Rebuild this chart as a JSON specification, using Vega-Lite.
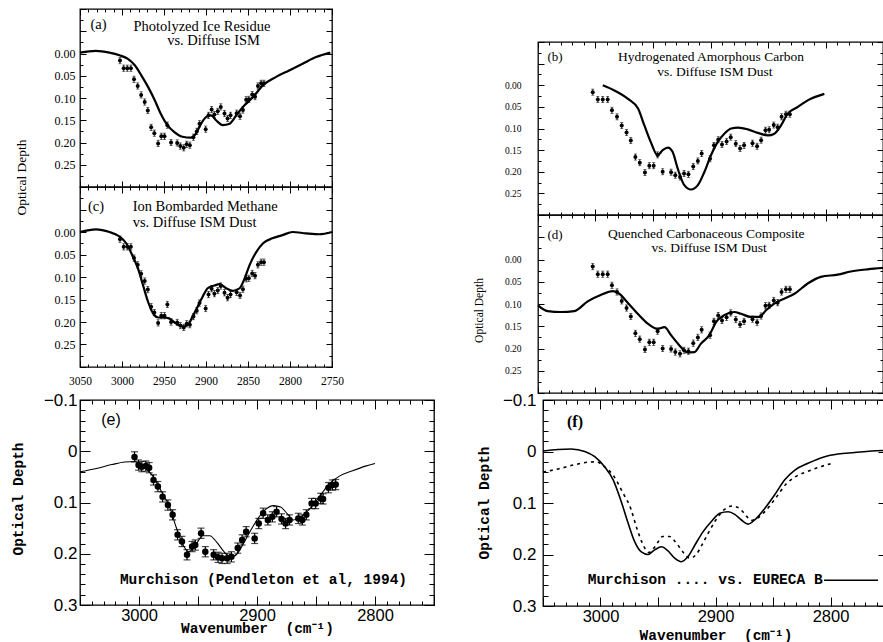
{
"$schema": "https://vega.github.io/schema/vega-lite/v6.json",
"padding": {"left": 9, "top": 7, "right": 0, "bottom": 0},
"background": "white",
"config": {
  "view": {"stroke": "#000", "strokeWidth": 1.3},
  "axis": {"domain": false, "grid": false, "tickColor": "#000", "tickWidth": 1, "labelColor": "#000", "titleColor": "#000", "labelFont": "Liberation Serif", "titleFont": "Liberation Serif", "labelOverlap": false, "labelFlush": false}
},
"datasets": {
  "ism": [{"wn":3002.4,"v":0.016,"e":0.007},{"wn":2998.0,"v":0.033,"e":0.007},{"wn":2993.7,"v":0.033,"e":0.007},{"wn":2989.4,"v":0.033,"e":0.007},{"wn":2985.7,"v":0.058,"e":0.007},{"wn":2981.3,"v":0.073,"e":0.007},{"wn":2977.2,"v":0.093,"e":0.007},{"wn":2973.0,"v":0.109,"e":0.007},{"wn":2969.3,"v":0.128,"e":0.007},{"wn":2965.3,"v":0.166,"e":0.007},{"wn":2961.5,"v":0.179,"e":0.007},{"wn":2957.0,"v":0.202,"e":0.007},{"wn":2953.2,"v":0.186,"e":0.007},{"wn":2949.4,"v":0.186,"e":0.007},{"wn":2946.0,"v":0.161,"e":0.007},{"wn":2941.6,"v":0.200,"e":0.007},{"wn":2934.3,"v":0.201,"e":0.007},{"wn":2930.6,"v":0.208,"e":0.007},{"wn":2926.5,"v":0.212,"e":0.007},{"wn":2923.0,"v":0.204,"e":0.007},{"wn":2919.2,"v":0.206,"e":0.007},{"wn":2915.0,"v":0.188,"e":0.007},{"wn":2911.0,"v":0.175,"e":0.007},{"wn":2907.7,"v":0.158,"e":0.007},{"wn":2900.4,"v":0.170,"e":0.007},{"wn":2897.0,"v":0.139,"e":0.007},{"wn":2893.3,"v":0.126,"e":0.007},{"wn":2890.0,"v":0.137,"e":0.007},{"wn":2886.0,"v":0.130,"e":0.007},{"wn":2882.4,"v":0.120,"e":0.007},{"wn":2878.0,"v":0.135,"e":0.007},{"wn":2874.3,"v":0.146,"e":0.007},{"wn":2870.8,"v":0.139,"e":0.007},{"wn":2863.5,"v":0.134,"e":0.007},{"wn":2859.5,"v":0.141,"e":0.007},{"wn":2856.0,"v":0.127,"e":0.007},{"wn":2852.2,"v":0.104,"e":0.007},{"wn":2849.0,"v":0.103,"e":0.007},{"wn":2845.0,"v":0.092,"e":0.007},{"wn":2841.6,"v":0.097,"e":0.007},{"wn":2838.2,"v":0.073,"e":0.007},{"wn":2834.4,"v":0.067,"e":0.007},{"wn":2831.0,"v":0.067,"e":0.007}],
  "mA": [{"wn":3050,"v":-0.002},{"wn":3031,"v":-0.006},{"wn":3015,"v":-0.002},{"wn":3003,"v":0.004},{"wn":2993,"v":0.012},{"wn":2985,"v":0.026},{"wn":2977,"v":0.049},{"wn":2969,"v":0.075},{"wn":2961,"v":0.105},{"wn":2954,"v":0.135},{"wn":2946,"v":0.161},{"wn":2938,"v":0.176},{"wn":2928,"v":0.187},{"wn":2918,"v":0.189},{"wn":2912,"v":0.180},{"wn":2906,"v":0.158},{"wn":2900,"v":0.143},{"wn":2894,"v":0.139},{"wn":2888,"v":0.150},{"wn":2880,"v":0.161},{"wn":2872,"v":0.158},{"wn":2864,"v":0.139},{"wn":2856,"v":0.120},{"wn":2844,"v":0.098},{"wn":2832,"v":0.071},{"wn":2817,"v":0.053},{"wn":2801,"v":0.038},{"wn":2785,"v":0.023},{"wn":2769,"v":0.008},{"wn":2752,"v":-0.002}],
  "mB": [{"wn":2993.7,"v":0.000},{"wn":2983.6,"v":0.012},{"wn":2972,"v":0.031},{"wn":2963,"v":0.054},{"wn":2957.5,"v":0.093},{"wn":2952,"v":0.131},{"wn":2946,"v":0.162},{"wn":2941.6,"v":0.150},{"wn":2937,"v":0.144},{"wn":2933,"v":0.154},{"wn":2928.5,"v":0.193},{"wn":2922.8,"v":0.231},{"wn":2917,"v":0.241},{"wn":2911,"v":0.231},{"wn":2905.4,"v":0.201},{"wn":2899.6,"v":0.162},{"wn":2893.7,"v":0.131},{"wn":2888,"v":0.112},{"wn":2882,"v":0.100},{"wn":2876,"v":0.098},{"wn":2867.6,"v":0.102},{"wn":2859,"v":0.110},{"wn":2850,"v":0.116},{"wn":2844.5,"v":0.112},{"wn":2838.7,"v":0.093},{"wn":2833,"v":0.066},{"wn":2824,"v":0.050},{"wn":2815.5,"v":0.035},{"wn":2801,"v":0.020}],
  "mC": [{"wn":3050,"v":0.000},{"wn":3031,"v":-0.006},{"wn":3015,"v":0.000},{"wn":3003,"v":0.010},{"wn":2995,"v":0.025},{"wn":2987,"v":0.055},{"wn":2981,"v":0.081},{"wn":2975,"v":0.118},{"wn":2969,"v":0.155},{"wn":2963,"v":0.181},{"wn":2957,"v":0.190},{"wn":2950,"v":0.190},{"wn":2944,"v":0.192},{"wn":2936,"v":0.203},{"wn":2928,"v":0.210},{"wn":2922,"v":0.207},{"wn":2916,"v":0.188},{"wn":2910,"v":0.166},{"wn":2904,"v":0.144},{"wn":2898,"v":0.125},{"wn":2890,"v":0.119},{"wn":2884,"v":0.116},{"wn":2876,"v":0.125},{"wn":2868,"v":0.131},{"wn":2860,"v":0.125},{"wn":2854,"v":0.103},{"wn":2848,"v":0.073},{"wn":2840,"v":0.044},{"wn":2832,"v":0.025},{"wn":2821,"v":0.014},{"wn":2809,"v":0.007},{"wn":2797,"v":0.000},{"wn":2781,"v":0.003},{"wn":2765,"v":0.005},{"wn":2750,"v":0.000}],
  "mD": [{"wn":3050,"v":0.103},{"wn":3041.6,"v":0.116},{"wn":3030,"v":0.118},{"wn":3018.4,"v":0.116},{"wn":3006.8,"v":0.094},{"wn":2995,"v":0.079},{"wn":2985,"v":0.071},{"wn":2979.3,"v":0.077},{"wn":2972,"v":0.097},{"wn":2963.3,"v":0.122},{"wn":2954.6,"v":0.144},{"wn":2946,"v":0.156},{"wn":2940,"v":0.152},{"wn":2934.3,"v":0.170},{"wn":2927,"v":0.193},{"wn":2920,"v":0.209},{"wn":2914,"v":0.208},{"wn":2908.3,"v":0.189},{"wn":2901,"v":0.170},{"wn":2895,"v":0.140},{"wn":2888,"v":0.125},{"wn":2879.3,"v":0.118},{"wn":2873.5,"v":0.122},{"wn":2865,"v":0.129},{"wn":2857.6,"v":0.129},{"wn":2851.7,"v":0.114},{"wn":2844.5,"v":0.099},{"wn":2836,"v":0.088},{"wn":2827,"v":0.077},{"wn":2815.5,"v":0.054},{"wn":2804,"v":0.039},{"wn":2789.4,"v":0.034},{"wn":2778,"v":0.027},{"wn":2763.3,"v":0.022},{"wn":2750,"v":0.019}],
  "murP": [{"wn":3003.8,"v":0.011,"e":0.01},{"wn":3000.4,"v":0.027,"e":0.01},{"wn":2997.6,"v":0.030,"e":0.01},{"wn":2994.2,"v":0.029,"e":0.01},{"wn":2991.4,"v":0.032,"e":0.01},{"wn":2987.7,"v":0.056,"e":0.01},{"wn":2984,"v":0.069,"e":0.01},{"wn":2980,"v":0.089,"e":0.01},{"wn":2975.5,"v":0.105,"e":0.01},{"wn":2971.5,"v":0.124,"e":0.01},{"wn":2967.3,"v":0.163,"e":0.01},{"wn":2963.6,"v":0.176,"e":0.01},{"wn":2959.3,"v":0.202,"e":0.01},{"wn":2955,"v":0.186,"e":0.01},{"wn":2952.3,"v":0.183,"e":0.01},{"wn":2947.4,"v":0.160,"e":0.01},{"wn":2943.8,"v":0.196,"e":0.01},{"wn":2936.7,"v":0.202,"e":0.01},{"wn":2933,"v":0.207,"e":0.01},{"wn":2929.6,"v":0.209,"e":0.01},{"wn":2925.3,"v":0.209,"e":0.01},{"wn":2921.7,"v":0.206,"e":0.01},{"wn":2916.3,"v":0.189,"e":0.01},{"wn":2912.6,"v":0.173,"e":0.01},{"wn":2909.2,"v":0.157,"e":0.01},{"wn":2902,"v":0.170,"e":0.01},{"wn":2898.5,"v":0.141,"e":0.01},{"wn":2894.8,"v":0.121,"e":0.01},{"wn":2890.8,"v":0.134,"e":0.01},{"wn":2887,"v":0.128,"e":0.01},{"wn":2883.4,"v":0.118,"e":0.01},{"wn":2879.2,"v":0.132,"e":0.01},{"wn":2875.8,"v":0.141,"e":0.01},{"wn":2872.4,"v":0.134,"e":0.01},{"wn":2865,"v":0.131,"e":0.01},{"wn":2861.6,"v":0.134,"e":0.01},{"wn":2858.2,"v":0.124,"e":0.01},{"wn":2853.7,"v":0.102,"e":0.01},{"wn":2850.3,"v":0.102,"e":0.01},{"wn":2846,"v":0.092,"e":0.01},{"wn":2844,"v":0.093,"e":0.01},{"wn":2839.5,"v":0.071,"e":0.01},{"wn":2836.1,"v":0.066,"e":0.01},{"wn":2833.3,"v":0.065,"e":0.01}],
  "murL": [{"wn":3050,"v":0.040},{"wn":3037,"v":0.034},{"wn":3023,"v":0.026},{"wn":3012,"v":0.021},{"wn":3003,"v":0.020},{"wn":2997.6,"v":0.028},{"wn":2989,"v":0.046},{"wn":2980.6,"v":0.080},{"wn":2973.5,"v":0.112},{"wn":2969,"v":0.145},{"wn":2963.6,"v":0.178},{"wn":2958,"v":0.196},{"wn":2952.3,"v":0.184},{"wn":2946,"v":0.165},{"wn":2940,"v":0.165},{"wn":2934,"v":0.178},{"wn":2928,"v":0.196},{"wn":2922.5,"v":0.207},{"wn":2916.8,"v":0.200},{"wn":2911,"v":0.178},{"wn":2905.5,"v":0.155},{"wn":2900,"v":0.134},{"wn":2893,"v":0.114},{"wn":2886,"v":0.106},{"wn":2880,"v":0.109},{"wn":2874.3,"v":0.122},{"wn":2869,"v":0.134},{"wn":2864,"v":0.130},{"wn":2856,"v":0.114},{"wn":2847.5,"v":0.090},{"wn":2839,"v":0.064},{"wn":2830.5,"v":0.049},{"wn":2819,"v":0.038},{"wn":2808,"v":0.029},{"wn":2800,"v":0.024}],
  "eur": [{"wn":3050,"v":-0.001},{"wn":3037,"v":-0.004},{"wn":3025.4,"v":-0.005},{"wn":3013.7,"v":0.000},{"wn":3005,"v":0.010},{"wn":2996.3,"v":0.030},{"wn":2989,"v":0.055},{"wn":2982,"v":0.097},{"wn":2976,"v":0.139},{"wn":2970.3,"v":0.175},{"wn":2964.5,"v":0.195},{"wn":2958.7,"v":0.200},{"wn":2952.9,"v":0.191},{"wn":2947,"v":0.185},{"wn":2941.3,"v":0.193},{"wn":2935.5,"v":0.207},{"wn":2929.7,"v":0.214},{"wn":2923.9,"v":0.204},{"wn":2918,"v":0.182},{"wn":2910.9,"v":0.156},{"wn":2903.6,"v":0.136},{"wn":2896.3,"v":0.120},{"wn":2889,"v":0.117},{"wn":2883.3,"v":0.122},{"wn":2877.5,"v":0.133},{"wn":2871.7,"v":0.141},{"wn":2866,"v":0.133},{"wn":2857,"v":0.110},{"wn":2848.5,"v":0.084},{"wn":2839.8,"v":0.055},{"wn":2831,"v":0.036},{"wn":2819.6,"v":0.023},{"wn":2805,"v":0.010},{"wn":2793.5,"v":0.005},{"wn":2779,"v":0.002},{"wn":2764.5,"v":-0.001},{"wn":2750,"v":-0.002}]
},
"spacing": 36,
"hconcat": [
{
"vconcat": [
{
"width": 252, "height": 178,
"resolve": {"axis": {"x": "independent", "y": "independent"}},
"layer": [
{"data": {"name": "mA"}, "mark": {"type": "line", "color": "#000", "strokeWidth": 2.2, "interpolate": "monotone"},
 "encoding": {"x": {"field": "wn", "type": "quantitative", "scale": {"domain": [2750, 3050], "reverse": true, "nice": false, "zero": false}, "axis": {"orient": "bottom", "values": [2750,2800,2850,2900,2950,3000,3050], "labels": false, "tickSize": -6, "title": null}},
  "y": {"field": "v", "type": "quantitative", "scale": {"domain": [-0.1, 0.3], "reverse": true, "nice": false, "zero": false}, "axis": {"orient": "left", "values": [-0.1,-0.05,0,0.05,0.1,0.15,0.2,0.25,0.3], "labels": false, "tickSize": -6, "title": null}}}},
{"data": {"name": "ism"}, "mark": {"type": "point", "filled": true, "color": "#000", "size": 16, "opacity": 1},
 "encoding": {"x": {"field": "wn", "type": "quantitative", "scale": {"domain": [2750, 3050], "reverse": true, "nice": false, "zero": false}, "axis": {"orient": "top", "values": [2750,2800,2850,2900,2950,3000,3050], "labels": false, "tickSize": -6, "title": null}},
  "y": {"field": "v", "type": "quantitative", "scale": {"domain": [-0.1, 0.3], "reverse": true, "nice": false, "zero": false}, "axis": {"orient": "right", "values": [-0.1,-0.05,0,0.05,0.1,0.15,0.2,0.25,0.3], "labels": false, "tickSize": -6, "title": null}}}},
{"data": {"name": "ism"}, "mark": {"type": "errorbar", "color": "#000", "thickness": 0.8, "ticks": {"size": 3, "color": "#000"}},
 "encoding": {"x": {"field": "wn", "type": "quantitative", "scale": {"domain": [2750, 3050], "reverse": true, "nice": false, "zero": false}, "axis": null},
  "y": {"field": "v", "type": "quantitative", "scale": {"domain": [-0.1, 0.3], "reverse": true, "nice": false, "zero": false}, "axis": null}, "yError": {"field": "e"}}},
{"data": {"name": "mA"}, "mark": {"type": "point", "opacity": 0},
 "encoding": {"x": {"field": "wn", "type": "quantitative", "scale": {"domain": [2750, 3050], "reverse": true, "nice": false, "zero": false}, "axis": {"orient": "bottom", "values": [2750,2760,2770,2780,2790,2800,2810,2820,2830,2840,2850,2860,2870,2880,2890,2900,2910,2920,2930,2940,2950,2960,2970,2980,2990,3000,3010,3020,3030,3040,3050], "labels": false, "tickSize": -3, "title": null}},
  "y": {"field": "v", "type": "quantitative", "scale": {"domain": [-0.1, 0.3], "reverse": true, "nice": false, "zero": false}, "axis": {"orient": "left", "values": [-0.1,-0.075,-0.05,-0.025,0,0.025,0.05,0.075,0.1,0.125,0.15,0.175,0.2,0.225,0.25,0.275,0.3], "labels": false, "tickSize": -3, "title": null}}}},
{"data": {"name": "mA"}, "mark": {"type": "point", "opacity": 0},
 "encoding": {"x": {"field": "wn", "type": "quantitative", "scale": {"domain": [2750, 3050], "reverse": true, "nice": false, "zero": false}, "axis": {"orient": "top", "values": [2750,2760,2770,2780,2790,2800,2810,2820,2830,2840,2850,2860,2870,2880,2890,2900,2910,2920,2930,2940,2950,2960,2970,2980,2990,3000,3010,3020,3030,3040,3050], "labels": false, "tickSize": -3, "title": null}},
  "y": {"field": "v", "type": "quantitative", "scale": {"domain": [-0.1, 0.3], "reverse": true, "nice": false, "zero": false}, "axis": {"orient": "right", "values": [-0.1,-0.075,-0.05,-0.025,0,0.025,0.05,0.075,0.1,0.125,0.15,0.175,0.2,0.225,0.25,0.275,0.3], "labels": false, "tickSize": -3, "title": null}}}},
{"data": {"name": "mA"}, "mark": {"type": "point", "opacity": 0},
 "encoding": {"x": {"field": "wn", "type": "quantitative", "scale": {"domain": [2750, 3050], "reverse": true, "nice": false, "zero": false}, "axis": null},
  "y": {"field": "v", "type": "quantitative", "scale": {"domain": [-0.1, 0.3], "reverse": true, "nice": false, "zero": false}, "axis": {"orient": "left", "values": [0,0.05,0.1,0.15,0.2,0.25], "ticks": false, "tickSize": 0, "labelPadding": 5, "format": ".2f", "labelFontSize": 12, "title": "Optical Depth", "titleX": -52, "titleY": 168, "titleAngle": -90, "titleBaseline": "bottom", "titleAlign": "center", "titleFontSize": 13.5, "titleFontWeight": "normal"}}}},
{"data": {"values": [{}]}, "mark": {"type": "text", "font": "Liberation Serif", "fontSize": 14.5, "color": "#000", "align": "center", "baseline": "middle"},
 "encoding": {"x": {"datum": 3028, "type": "quantitative", "scale": {"domain": [2750, 3050], "reverse": true, "nice": false, "zero": false}, "axis": null}, "y": {"datum": -0.063, "type": "quantitative", "scale": {"domain": [-0.1, 0.3], "reverse": true, "nice": false, "zero": false}, "axis": null}, "text": {"value": "(a)"}}},
{"data": {"values": [{}]}, "mark": {"type": "text", "font": "Liberation Serif", "fontSize": 14.5, "color": "#000", "align": "center", "baseline": "middle"},
 "encoding": {"x": {"datum": 2904.8, "type": "quantitative", "scale": {"domain": [2750, 3050], "reverse": true, "nice": false, "zero": false}, "axis": null}, "y": {"datum": -0.0605, "type": "quantitative", "scale": {"domain": [-0.1, 0.3], "reverse": true, "nice": false, "zero": false}, "axis": null}, "text": {"value": "Photolyzed Ice Residue"}}},
{"data": {"values": [{}]}, "mark": {"type": "text", "font": "Liberation Serif", "fontSize": 14.5, "color": "#000", "align": "center", "baseline": "middle"},
 "encoding": {"x": {"datum": 2891, "type": "quantitative", "scale": {"domain": [2750, 3050], "reverse": true, "nice": false, "zero": false}, "axis": null}, "y": {"datum": -0.0292, "type": "quantitative", "scale": {"domain": [-0.1, 0.3], "reverse": true, "nice": false, "zero": false}, "axis": null}, "text": {"value": "vs. Diffuse ISM"}}}
]
},
{
"width": 252, "height": 180,
"resolve": {"axis": {"x": "independent", "y": "independent"}},
"layer": [
{"data": {"name": "mC"}, "mark": {"type": "line", "color": "#000", "strokeWidth": 2.2, "interpolate": "monotone"},
 "encoding": {"x": {"field": "wn", "type": "quantitative", "scale": {"domain": [2750, 3050], "reverse": true, "nice": false, "zero": false}, "axis": {"orient": "bottom", "values": [2750,2800,2850,2900,2950,3000,3050], "labels": false, "tickSize": -6, "title": null}},
  "y": {"field": "v", "type": "quantitative", "scale": {"domain": [-0.1, 0.3], "reverse": true, "nice": false, "zero": false}, "axis": {"orient": "left", "values": [-0.1,-0.05,0,0.05,0.1,0.15,0.2,0.25,0.3], "labels": false, "tickSize": -6, "title": null}}}},
{"data": {"name": "ism"}, "mark": {"type": "point", "filled": true, "color": "#000", "size": 16, "opacity": 1},
 "encoding": {"x": {"field": "wn", "type": "quantitative", "scale": {"domain": [2750, 3050], "reverse": true, "nice": false, "zero": false}, "axis": {"orient": "top", "values": [2750,2800,2850,2900,2950,3000,3050], "labels": false, "tickSize": -6, "title": null}},
  "y": {"field": "v", "type": "quantitative", "scale": {"domain": [-0.1, 0.3], "reverse": true, "nice": false, "zero": false}, "axis": {"orient": "right", "values": [-0.1,-0.05,0,0.05,0.1,0.15,0.2,0.25,0.3], "labels": false, "tickSize": -6, "title": null}}}},
{"data": {"name": "ism"}, "mark": {"type": "errorbar", "color": "#000", "thickness": 0.8, "ticks": {"size": 3, "color": "#000"}},
 "encoding": {"x": {"field": "wn", "type": "quantitative", "scale": {"domain": [2750, 3050], "reverse": true, "nice": false, "zero": false}, "axis": null},
  "y": {"field": "v", "type": "quantitative", "scale": {"domain": [-0.1, 0.3], "reverse": true, "nice": false, "zero": false}, "axis": null}, "yError": {"field": "e"}}},
{"data": {"name": "mC"}, "mark": {"type": "point", "opacity": 0},
 "encoding": {"x": {"field": "wn", "type": "quantitative", "scale": {"domain": [2750, 3050], "reverse": true, "nice": false, "zero": false}, "axis": {"orient": "bottom", "values": [2750,2760,2770,2780,2790,2800,2810,2820,2830,2840,2850,2860,2870,2880,2890,2900,2910,2920,2930,2940,2950,2960,2970,2980,2990,3000,3010,3020,3030,3040,3050], "labels": false, "tickSize": -3, "title": null}},
  "y": {"field": "v", "type": "quantitative", "scale": {"domain": [-0.1, 0.3], "reverse": true, "nice": false, "zero": false}, "axis": {"orient": "left", "values": [-0.1,-0.075,-0.05,-0.025,0,0.025,0.05,0.075,0.1,0.125,0.15,0.175,0.2,0.225,0.25,0.275,0.3], "labels": false, "tickSize": -3, "title": null}}}},
{"data": {"name": "mC"}, "mark": {"type": "point", "opacity": 0},
 "encoding": {"x": {"field": "wn", "type": "quantitative", "scale": {"domain": [2750, 3050], "reverse": true, "nice": false, "zero": false}, "axis": {"orient": "top", "values": [2750,2760,2770,2780,2790,2800,2810,2820,2830,2840,2850,2860,2870,2880,2890,2900,2910,2920,2930,2940,2950,2960,2970,2980,2990,3000,3010,3020,3030,3040,3050], "labels": false, "tickSize": -3, "title": null}},
  "y": {"field": "v", "type": "quantitative", "scale": {"domain": [-0.1, 0.3], "reverse": true, "nice": false, "zero": false}, "axis": {"orient": "right", "values": [-0.1,-0.075,-0.05,-0.025,0,0.025,0.05,0.075,0.1,0.125,0.15,0.175,0.2,0.225,0.25,0.275,0.3], "labels": false, "tickSize": -3, "title": null}}}},
{"data": {"name": "mC"}, "mark": {"type": "point", "opacity": 0},
 "encoding": {"x": {"field": "wn", "type": "quantitative", "scale": {"domain": [2750, 3050], "reverse": true, "nice": false, "zero": false}, "axis": {"orient": "bottom", "values": [2750,2800,2850,2900,2950,3000,3050], "ticks": false, "tickSize": 0, "labelPadding": 8.5, "format": "d", "labelFontSize": 11.5, "title": null}},
  "y": {"field": "v", "type": "quantitative", "scale": {"domain": [-0.1, 0.3], "reverse": true, "nice": false, "zero": false}, "axis": {"orient": "left", "values": [0,0.05,0.1,0.15,0.2,0.25], "ticks": false, "tickSize": 0, "labelPadding": 5, "format": ".2f", "labelFontSize": 12, "title": null}}}},
{"data": {"values": [{}]}, "mark": {"type": "text", "font": "Liberation Serif", "fontSize": 14.5, "color": "#000", "align": "center", "baseline": "middle"},
 "encoding": {"x": {"datum": 3031, "type": "quantitative", "scale": {"domain": [2750, 3050], "reverse": true, "nice": false, "zero": false}, "axis": null}, "y": {"datum": -0.056, "type": "quantitative", "scale": {"domain": [-0.1, 0.3], "reverse": true, "nice": false, "zero": false}, "axis": null}, "text": {"value": "(c)"}}},
{"data": {"values": [{}]}, "mark": {"type": "text", "font": "Liberation Serif", "fontSize": 14.5, "color": "#000", "align": "left", "baseline": "middle"},
 "encoding": {"x": {"datum": 2987.3, "type": "quantitative", "scale": {"domain": [2750, 3050], "reverse": true, "nice": false, "zero": false}, "axis": null}, "y": {"datum": -0.0545, "type": "quantitative", "scale": {"domain": [-0.1, 0.3], "reverse": true, "nice": false, "zero": false}, "axis": null}, "text": {"value": "Ion Bombarded Methane"}}},
{"data": {"values": [{}]}, "mark": {"type": "text", "font": "Liberation Serif", "fontSize": 14.5, "color": "#000", "align": "left", "baseline": "middle"},
 "encoding": {"x": {"datum": 2987.3, "type": "quantitative", "scale": {"domain": [2750, 3050], "reverse": true, "nice": false, "zero": false}, "axis": null}, "y": {"datum": -0.0205, "type": "quantitative", "scale": {"domain": [-0.1, 0.3], "reverse": true, "nice": false, "zero": false}, "axis": null}, "text": {"value": "vs. Diffuse ISM Dust"}}}
]
},
{"width": 252, "height": 33, "data": {"values": []}, "mark": "point", "view": {"stroke": null}},
{
"width": 354, "height": 205,
"resolve": {"axis": {"x": "independent", "y": "independent"}},
"layer": [
{"data": {"name": "murL"}, "mark": {"type": "line", "color": "#000", "strokeWidth": 1.1, "interpolate": "monotone"},
 "encoding": {"x": {"field": "wn", "type": "quantitative", "scale": {"domain": [2750, 3050], "reverse": true, "nice": false, "zero": false}, "axis": {"orient": "bottom", "values": [2750,2800,2850,2900,2950,3000,3050], "labels": false, "tickSize": -9, "title": null}},
  "y": {"field": "v", "type": "quantitative", "scale": {"domain": [-0.1, 0.3], "reverse": true, "nice": false, "zero": false}, "axis": {"orient": "left", "values": [-0.1,0,0.1,0.2,0.3], "labels": false, "tickSize": -10, "title": null}}}},
{"data": {"name": "murP"}, "mark": {"type": "point", "filled": true, "color": "#000", "size": 42, "opacity": 1},
 "encoding": {"x": {"field": "wn", "type": "quantitative", "scale": {"domain": [2750, 3050], "reverse": true, "nice": false, "zero": false}, "axis": {"orient": "top", "values": [2750,2800,2850,2900,2950,3000,3050], "labels": false, "tickSize": -9, "title": null}},
  "y": {"field": "v", "type": "quantitative", "scale": {"domain": [-0.1, 0.3], "reverse": true, "nice": false, "zero": false}, "axis": {"orient": "right", "values": [-0.1,0,0.1,0.2,0.3], "labels": false, "tickSize": -10, "title": null}}}},
{"data": {"name": "murP"}, "mark": {"type": "errorbar", "color": "#000", "thickness": 1.2, "ticks": {"size": 7, "color": "#000"}},
 "encoding": {"x": {"field": "wn", "type": "quantitative", "scale": {"domain": [2750, 3050], "reverse": true, "nice": false, "zero": false}, "axis": null},
  "y": {"field": "v", "type": "quantitative", "scale": {"domain": [-0.1, 0.3], "reverse": true, "nice": false, "zero": false}, "axis": null}, "yError": {"field": "e"}}},
{"data": {"name": "murL"}, "mark": {"type": "point", "opacity": 0},
 "encoding": {"x": {"field": "wn", "type": "quantitative", "scale": {"domain": [2750, 3050], "reverse": true, "nice": false, "zero": false}, "axis": {"orient": "bottom", "values": [2750,2760,2770,2780,2790,2800,2810,2820,2830,2840,2850,2860,2870,2880,2890,2900,2910,2920,2930,2940,2950,2960,2970,2980,2990,3000,3010,3020,3030,3040,3050], "labels": false, "tickSize": -4, "title": null}},
  "y": {"field": "v", "type": "quantitative", "scale": {"domain": [-0.1, 0.3], "reverse": true, "nice": false, "zero": false}, "axis": {"orient": "left", "values": [-0.1,-0.08,-0.06,-0.04,-0.02,0,0.02,0.04,0.06,0.08,0.1,0.12,0.14,0.16,0.18,0.2,0.22,0.24,0.26,0.28,0.3], "labels": false, "tickSize": -5, "title": null}}}},
{"data": {"name": "murL"}, "mark": {"type": "point", "opacity": 0},
 "encoding": {"x": {"field": "wn", "type": "quantitative", "scale": {"domain": [2750, 3050], "reverse": true, "nice": false, "zero": false}, "axis": {"orient": "top", "values": [2750,2760,2770,2780,2790,2800,2810,2820,2830,2840,2850,2860,2870,2880,2890,2900,2910,2920,2930,2940,2950,2960,2970,2980,2990,3000,3010,3020,3030,3040,3050], "labels": false, "tickSize": -4, "title": null}},
  "y": {"field": "v", "type": "quantitative", "scale": {"domain": [-0.1, 0.3], "reverse": true, "nice": false, "zero": false}, "axis": {"orient": "right", "values": [-0.1,-0.08,-0.06,-0.04,-0.02,0,0.02,0.04,0.06,0.08,0.1,0.12,0.14,0.16,0.18,0.2,0.22,0.24,0.26,0.28,0.3], "labels": false, "tickSize": -5, "title": null}}}},
{"data": {"name": "murL"}, "mark": {"type": "point", "opacity": 0},
 "encoding": {"x": {"field": "wn", "type": "quantitative", "scale": {"domain": [2750, 3050], "reverse": true, "nice": false, "zero": false}, "axis": {"orient": "bottom", "values": [2800,2900,3000], "ticks": false, "tickSize": 0, "labelPadding": 2, "format": "d", "labelFont": "Liberation Sans", "labelFontSize": 16.5, "title": "Wavenumber\u00a0\u00a0(cm\u207b\u00b9)", "titleFont": "Liberation Mono", "titleFontWeight": "bold", "titleFontSize": 14.5, "titleY": 23.5, "titleBaseline": "middle"}},
  "y": {"field": "v", "type": "quantitative", "scale": {"domain": [-0.1, 0.3], "reverse": true, "nice": false, "zero": false}, "axis": {"orient": "left", "values": [-0.1,0,0.1,0.2,0.3], "ticks": false, "tickSize": 0, "labelPadding": 3, "labelExpr": "abs(datum.value) < 1e-9 ? '0' : format(datum.value, '.1f')", "labelFont": "Liberation Sans", "labelFontSize": 17, "title": "Optical Depth", "titleFont": "Liberation Mono", "titleFontWeight": "bold", "titleFontSize": 14.5, "titleX": -55, "titleY": 98.5, "titleAngle": -90, "titleBaseline": "bottom", "titleAlign": "center"}}}},
{"data": {"values": [{}]}, "mark": {"type": "text", "font": "Liberation Sans", "fontSize": 16, "color": "#000", "align": "center", "baseline": "middle"},
 "encoding": {"x": {"datum": 3023.7, "type": "quantitative", "scale": {"domain": [2750, 3050], "reverse": true, "nice": false, "zero": false}, "axis": null}, "y": {"datum": -0.061, "type": "quantitative", "scale": {"domain": [-0.1, 0.3], "reverse": true, "nice": false, "zero": false}, "axis": null}, "text": {"value": "(e)"}}},
{"data": {"values": [{}]}, "mark": {"type": "text", "font": "Liberation Mono", "fontWeight": "bold", "fontSize": 14.5, "color": "#000", "align": "center", "baseline": "middle"},
 "encoding": {"x": {"datum": 2894.5, "type": "quantitative", "scale": {"domain": [2750, 3050], "reverse": true, "nice": false, "zero": false}, "axis": null}, "y": {"datum": 0.252, "type": "quantitative", "scale": {"domain": [-0.1, 0.3], "reverse": true, "nice": false, "zero": false}, "axis": null}, "text": {"value": "Murchison (Pendleton et al, 1994)"}}}
]
}
],
"spacing": 0, "bounds": "flush"
},
{
"vconcat": [
{"width": 345, "height": 33, "data": {"values": []}, "mark": "point", "view": {"stroke": null}},
{
"width": 345, "height": 173,
"resolve": {"axis": {"x": "independent", "y": "independent"}},
"layer": [
{"data": {"name": "mB"}, "mark": {"type": "line", "color": "#000", "strokeWidth": 2.2, "interpolate": "monotone"},
 "encoding": {"x": {"field": "wn", "type": "quantitative", "scale": {"domain": [2750, 3050], "reverse": true, "nice": false, "zero": false}, "axis": {"orient": "bottom", "values": [2750,2800,2850,2900,2950,3000,3050], "labels": false, "tickSize": -6, "title": null}},
  "y": {"field": "v", "type": "quantitative", "scale": {"domain": [-0.1, 0.3], "reverse": true, "nice": false, "zero": false}, "axis": {"orient": "left", "values": [-0.1,-0.05,0,0.05,0.1,0.15,0.2,0.25,0.3], "labels": false, "tickSize": -6, "title": null}}}},
{"data": {"name": "ism"}, "mark": {"type": "point", "filled": true, "color": "#000", "size": 16, "opacity": 1},
 "encoding": {"x": {"field": "wn", "type": "quantitative", "scale": {"domain": [2750, 3050], "reverse": true, "nice": false, "zero": false}, "axis": {"orient": "top", "values": [2750,2800,2850,2900,2950,3000,3050], "labels": false, "tickSize": -6, "title": null}},
  "y": {"field": "v", "type": "quantitative", "scale": {"domain": [-0.1, 0.3], "reverse": true, "nice": false, "zero": false}, "axis": {"orient": "right", "values": [-0.1,-0.05,0,0.05,0.1,0.15,0.2,0.25,0.3], "labels": false, "tickSize": -6, "title": null}}}},
{"data": {"name": "ism"}, "mark": {"type": "errorbar", "color": "#000", "thickness": 0.8, "ticks": {"size": 3, "color": "#000"}},
 "encoding": {"x": {"field": "wn", "type": "quantitative", "scale": {"domain": [2750, 3050], "reverse": true, "nice": false, "zero": false}, "axis": null},
  "y": {"field": "v", "type": "quantitative", "scale": {"domain": [-0.1, 0.3], "reverse": true, "nice": false, "zero": false}, "axis": null}, "yError": {"field": "e"}}},
{"data": {"name": "mB"}, "mark": {"type": "point", "opacity": 0},
 "encoding": {"x": {"field": "wn", "type": "quantitative", "scale": {"domain": [2750, 3050], "reverse": true, "nice": false, "zero": false}, "axis": {"orient": "bottom", "values": [2750,2760,2770,2780,2790,2800,2810,2820,2830,2840,2850,2860,2870,2880,2890,2900,2910,2920,2930,2940,2950,2960,2970,2980,2990,3000,3010,3020,3030,3040,3050], "labels": false, "tickSize": -3, "title": null}},
  "y": {"field": "v", "type": "quantitative", "scale": {"domain": [-0.1, 0.3], "reverse": true, "nice": false, "zero": false}, "axis": {"orient": "left", "values": [-0.1,-0.075,-0.05,-0.025,0,0.025,0.05,0.075,0.1,0.125,0.15,0.175,0.2,0.225,0.25,0.275,0.3], "labels": false, "tickSize": -3, "title": null}}}},
{"data": {"name": "mB"}, "mark": {"type": "point", "opacity": 0},
 "encoding": {"x": {"field": "wn", "type": "quantitative", "scale": {"domain": [2750, 3050], "reverse": true, "nice": false, "zero": false}, "axis": {"orient": "top", "values": [2750,2760,2770,2780,2790,2800,2810,2820,2830,2840,2850,2860,2870,2880,2890,2900,2910,2920,2930,2940,2950,2960,2970,2980,2990,3000,3010,3020,3030,3040,3050], "labels": false, "tickSize": -3, "title": null}},
  "y": {"field": "v", "type": "quantitative", "scale": {"domain": [-0.1, 0.3], "reverse": true, "nice": false, "zero": false}, "axis": {"orient": "right", "values": [-0.1,-0.075,-0.05,-0.025,0,0.025,0.05,0.075,0.1,0.125,0.15,0.175,0.2,0.225,0.25,0.275,0.3], "labels": false, "tickSize": -3, "title": null}}}},
{"data": {"name": "mB"}, "mark": {"type": "point", "opacity": 0},
 "encoding": {"x": {"field": "wn", "type": "quantitative", "scale": {"domain": [2750, 3050], "reverse": true, "nice": false, "zero": false}, "axis": null},
  "y": {"field": "v", "type": "quantitative", "scale": {"domain": [-0.1, 0.3], "reverse": true, "nice": false, "zero": false}, "axis": {"orient": "left", "values": [0,0.05,0.1,0.15,0.2,0.25], "ticks": false, "tickSize": 0, "labelPadding": 17, "format": ".2f", "labelFontSize": 9.5, "title": null}}}},
{"data": {"values": [{}]}, "mark": {"type": "text", "font": "Liberation Serif", "fontSize": 13, "color": "#000", "align": "center", "baseline": "middle"},
 "encoding": {"x": {"datum": 3035.2, "type": "quantitative", "scale": {"domain": [2750, 3050], "reverse": true, "nice": false, "zero": false}, "axis": null}, "y": {"datum": -0.065, "type": "quantitative", "scale": {"domain": [-0.1, 0.3], "reverse": true, "nice": false, "zero": false}, "axis": null}, "text": {"value": "(b)"}}},
{"data": {"values": [{}]}, "mark": {"type": "text", "font": "Liberation Serif", "fontSize": 13.5, "color": "#000", "align": "center", "baseline": "middle"},
 "encoding": {"x": {"datum": 2899.6, "type": "quantitative", "scale": {"domain": [2750, 3050], "reverse": true, "nice": false, "zero": false}, "axis": null}, "y": {"datum": -0.0645, "type": "quantitative", "scale": {"domain": [-0.1, 0.3], "reverse": true, "nice": false, "zero": false}, "axis": null}, "text": {"value": "Hydrogenated Amorphous Carbon"}}},
{"data": {"values": [{}]}, "mark": {"type": "text", "font": "Liberation Serif", "fontSize": 13.5, "color": "#000", "align": "center", "baseline": "middle"},
 "encoding": {"x": {"datum": 2896.1, "type": "quantitative", "scale": {"domain": [2750, 3050], "reverse": true, "nice": false, "zero": false}, "axis": null}, "y": {"datum": -0.0298, "type": "quantitative", "scale": {"domain": [-0.1, 0.3], "reverse": true, "nice": false, "zero": false}, "axis": null}, "text": {"value": "vs. Diffuse ISM Dust"}}}
]
},
{
"width": 345, "height": 178,
"resolve": {"axis": {"x": "independent", "y": "independent"}},
"layer": [
{"data": {"name": "mD"}, "mark": {"type": "line", "color": "#000", "strokeWidth": 2.2, "interpolate": "monotone"},
 "encoding": {"x": {"field": "wn", "type": "quantitative", "scale": {"domain": [2750, 3050], "reverse": true, "nice": false, "zero": false}, "axis": {"orient": "bottom", "values": [2750,2800,2850,2900,2950,3000,3050], "labels": false, "tickSize": -6, "title": null}},
  "y": {"field": "v", "type": "quantitative", "scale": {"domain": [-0.1, 0.3], "reverse": true, "nice": false, "zero": false}, "axis": {"orient": "left", "values": [-0.1,-0.05,0,0.05,0.1,0.15,0.2,0.25,0.3], "labels": false, "tickSize": -6, "title": null}}}},
{"data": {"name": "ism"}, "mark": {"type": "point", "filled": true, "color": "#000", "size": 16, "opacity": 1},
 "encoding": {"x": {"field": "wn", "type": "quantitative", "scale": {"domain": [2750, 3050], "reverse": true, "nice": false, "zero": false}, "axis": {"orient": "top", "values": [2750,2800,2850,2900,2950,3000,3050], "labels": false, "tickSize": -6, "title": null}},
  "y": {"field": "v", "type": "quantitative", "scale": {"domain": [-0.1, 0.3], "reverse": true, "nice": false, "zero": false}, "axis": {"orient": "right", "values": [-0.1,-0.05,0,0.05,0.1,0.15,0.2,0.25,0.3], "labels": false, "tickSize": -6, "title": null}}}},
{"data": {"name": "ism"}, "mark": {"type": "errorbar", "color": "#000", "thickness": 0.8, "ticks": {"size": 3, "color": "#000"}},
 "encoding": {"x": {"field": "wn", "type": "quantitative", "scale": {"domain": [2750, 3050], "reverse": true, "nice": false, "zero": false}, "axis": null},
  "y": {"field": "v", "type": "quantitative", "scale": {"domain": [-0.1, 0.3], "reverse": true, "nice": false, "zero": false}, "axis": null}, "yError": {"field": "e"}}},
{"data": {"name": "mD"}, "mark": {"type": "point", "opacity": 0},
 "encoding": {"x": {"field": "wn", "type": "quantitative", "scale": {"domain": [2750, 3050], "reverse": true, "nice": false, "zero": false}, "axis": {"orient": "bottom", "values": [2750,2760,2770,2780,2790,2800,2810,2820,2830,2840,2850,2860,2870,2880,2890,2900,2910,2920,2930,2940,2950,2960,2970,2980,2990,3000,3010,3020,3030,3040,3050], "labels": false, "tickSize": -3, "title": null}},
  "y": {"field": "v", "type": "quantitative", "scale": {"domain": [-0.1, 0.3], "reverse": true, "nice": false, "zero": false}, "axis": {"orient": "left", "values": [-0.1,-0.075,-0.05,-0.025,0,0.025,0.05,0.075,0.1,0.125,0.15,0.175,0.2,0.225,0.25,0.275,0.3], "labels": false, "tickSize": -3, "title": null}}}},
{"data": {"name": "mD"}, "mark": {"type": "point", "opacity": 0},
 "encoding": {"x": {"field": "wn", "type": "quantitative", "scale": {"domain": [2750, 3050], "reverse": true, "nice": false, "zero": false}, "axis": {"orient": "top", "values": [2750,2760,2770,2780,2790,2800,2810,2820,2830,2840,2850,2860,2870,2880,2890,2900,2910,2920,2930,2940,2950,2960,2970,2980,2990,3000,3010,3020,3030,3040,3050], "labels": false, "tickSize": -3, "title": null}},
  "y": {"field": "v", "type": "quantitative", "scale": {"domain": [-0.1, 0.3], "reverse": true, "nice": false, "zero": false}, "axis": {"orient": "right", "values": [-0.1,-0.075,-0.05,-0.025,0,0.025,0.05,0.075,0.1,0.125,0.15,0.175,0.2,0.225,0.25,0.275,0.3], "labels": false, "tickSize": -3, "title": null}}}},
{"data": {"name": "mD"}, "mark": {"type": "point", "opacity": 0},
 "encoding": {"x": {"field": "wn", "type": "quantitative", "scale": {"domain": [2750, 3050], "reverse": true, "nice": false, "zero": false}, "axis": null},
  "y": {"field": "v", "type": "quantitative", "scale": {"domain": [-0.1, 0.3], "reverse": true, "nice": false, "zero": false}, "axis": {"orient": "left", "values": [0,0.05,0.1,0.15,0.2,0.25], "ticks": false, "tickSize": 0, "labelPadding": 17, "format": ".2f", "labelFontSize": 9.5, "title": "Optical Depth", "titleX": -54, "titleY": 95, "titleAngle": -90, "titleBaseline": "bottom", "titleAlign": "center", "titleFontSize": 11.5, "titleFontWeight": "normal"}}}},
{"data": {"values": [{}]}, "mark": {"type": "text", "font": "Liberation Serif", "fontSize": 13, "color": "#000", "align": "center", "baseline": "middle"},
 "encoding": {"x": {"datum": 3035.2, "type": "quantitative", "scale": {"domain": [2750, 3050], "reverse": true, "nice": false, "zero": false}, "axis": null}, "y": {"datum": -0.0557, "type": "quantitative", "scale": {"domain": [-0.1, 0.3], "reverse": true, "nice": false, "zero": false}, "axis": null}, "text": {"value": "(d)"}}},
{"data": {"values": [{}]}, "mark": {"type": "text", "font": "Liberation Serif", "fontSize": 13.5, "color": "#000", "align": "center", "baseline": "middle"},
 "encoding": {"x": {"datum": 2903.7, "type": "quantitative", "scale": {"domain": [2750, 3050], "reverse": true, "nice": false, "zero": false}, "axis": null}, "y": {"datum": -0.0565, "type": "quantitative", "scale": {"domain": [-0.1, 0.3], "reverse": true, "nice": false, "zero": false}, "axis": null}, "text": {"value": "Quenched Carbonaceous Composite"}}},
{"data": {"values": [{}]}, "mark": {"type": "text", "font": "Liberation Serif", "fontSize": 13.5, "color": "#000", "align": "center", "baseline": "middle"},
 "encoding": {"x": {"datum": 2901.3, "type": "quantitative", "scale": {"domain": [2750, 3050], "reverse": true, "nice": false, "zero": false}, "axis": null}, "y": {"datum": -0.0255, "type": "quantitative", "scale": {"domain": [-0.1, 0.3], "reverse": true, "nice": false, "zero": false}, "axis": null}, "text": {"value": "vs. Diffuse ISM Dust"}}}
]
},
{"width": 345, "height": 7, "data": {"values": []}, "mark": "point", "view": {"stroke": null}},
{
"hconcat": [
{"width": 5, "height": 206, "data": {"values": []}, "mark": "point", "view": {"stroke": null}},
{
"width": 345, "height": 206,
"resolve": {"axis": {"x": "independent", "y": "independent"}},
"layer": [
{"data": {"name": "eur"}, "mark": {"type": "line", "color": "#000", "strokeWidth": 1.6, "interpolate": "monotone"},
 "encoding": {"x": {"field": "wn", "type": "quantitative", "scale": {"domain": [2750, 3050], "reverse": true, "nice": false, "zero": false}, "axis": {"orient": "bottom", "values": [2750,2800,2850,2900,2950,3000,3050], "labels": false, "tickSize": -9, "title": null}},
  "y": {"field": "v", "type": "quantitative", "scale": {"domain": [-0.1, 0.3], "reverse": true, "nice": false, "zero": false}, "axis": {"orient": "left", "values": [-0.1,0,0.1,0.2,0.3], "labels": false, "tickSize": -10, "title": null}}}},
{"data": {"name": "murL"}, "mark": {"type": "line", "color": "#000", "strokeWidth": 1.6, "strokeDash": [3, 4], "interpolate": "monotone"},
 "encoding": {"x": {"field": "wn", "type": "quantitative", "scale": {"domain": [2750, 3050], "reverse": true, "nice": false, "zero": false}, "axis": {"orient": "top", "values": [2750,2800,2850,2900,2950,3000,3050], "labels": false, "tickSize": -9, "title": null}},
  "y": {"field": "v", "type": "quantitative", "scale": {"domain": [-0.1, 0.3], "reverse": true, "nice": false, "zero": false}, "axis": {"orient": "right", "values": [-0.1,0,0.1,0.2,0.3], "labels": false, "tickSize": -10, "title": null}}}},
{"data": {"name": "eur"}, "mark": {"type": "point", "opacity": 0},
 "encoding": {"x": {"field": "wn", "type": "quantitative", "scale": {"domain": [2750, 3050], "reverse": true, "nice": false, "zero": false}, "axis": {"orient": "bottom", "values": [2750,2760,2770,2780,2790,2800,2810,2820,2830,2840,2850,2860,2870,2880,2890,2900,2910,2920,2930,2940,2950,2960,2970,2980,2990,3000,3010,3020,3030,3040,3050], "labels": false, "tickSize": -4, "title": null}},
  "y": {"field": "v", "type": "quantitative", "scale": {"domain": [-0.1, 0.3], "reverse": true, "nice": false, "zero": false}, "axis": {"orient": "left", "values": [-0.1,-0.08,-0.06,-0.04,-0.02,0,0.02,0.04,0.06,0.08,0.1,0.12,0.14,0.16,0.18,0.2,0.22,0.24,0.26,0.28,0.3], "labels": false, "tickSize": -5, "title": null}}}},
{"data": {"name": "eur"}, "mark": {"type": "point", "opacity": 0},
 "encoding": {"x": {"field": "wn", "type": "quantitative", "scale": {"domain": [2750, 3050], "reverse": true, "nice": false, "zero": false}, "axis": {"orient": "top", "values": [2750,2760,2770,2780,2790,2800,2810,2820,2830,2840,2850,2860,2870,2880,2890,2900,2910,2920,2930,2940,2950,2960,2970,2980,2990,3000,3010,3020,3030,3040,3050], "labels": false, "tickSize": -4, "title": null}},
  "y": {"field": "v", "type": "quantitative", "scale": {"domain": [-0.1, 0.3], "reverse": true, "nice": false, "zero": false}, "axis": {"orient": "right", "values": [-0.1,-0.08,-0.06,-0.04,-0.02,0,0.02,0.04,0.06,0.08,0.1,0.12,0.14,0.16,0.18,0.2,0.22,0.24,0.26,0.28,0.3], "labels": false, "tickSize": -5, "title": null}}}},
{"data": {"name": "eur"}, "mark": {"type": "point", "opacity": 0},
 "encoding": {"x": {"field": "wn", "type": "quantitative", "scale": {"domain": [2750, 3050], "reverse": true, "nice": false, "zero": false}, "axis": {"orient": "bottom", "values": [2800,2900,3000], "ticks": false, "tickSize": 0, "labelPadding": 2.5, "format": "d", "labelFont": "Liberation Sans", "labelFontSize": 16.5, "title": "Wavenumber\u00a0\u00a0(cm\u207b\u00b9)", "titleFont": "Liberation Mono", "titleFontWeight": "bold", "titleFontSize": 14.5, "titleY": 29, "titleBaseline": "middle"}},
  "y": {"field": "v", "type": "quantitative", "scale": {"domain": [-0.1, 0.3], "reverse": true, "nice": false, "zero": false}, "axis": {"orient": "left", "values": [-0.1,0,0.1,0.2,0.3], "ticks": false, "tickSize": 0, "labelPadding": 7, "labelExpr": "abs(datum.value) < 1e-9 ? '0' : format(datum.value, '.1f')", "labelFont": "Liberation Sans", "labelFontSize": 17, "title": "Optical Depth", "titleFont": "Liberation Mono", "titleFontWeight": "bold", "titleFontSize": 14.5, "titleX": -52, "titleY": 102.5, "titleAngle": -90, "titleBaseline": "bottom", "titleAlign": "center"}}}},
{"data": {"values": [{}]}, "mark": {"type": "text", "font": "Liberation Serif", "fontWeight": "bold", "fontSize": 16, "color": "#000", "align": "center", "baseline": "middle"},
 "encoding": {"x": {"datum": 3022.2, "type": "quantitative", "scale": {"domain": [2750, 3050], "reverse": true, "nice": false, "zero": false}, "axis": null}, "y": {"datum": -0.057, "type": "quantitative", "scale": {"domain": [-0.1, 0.3], "reverse": true, "nice": false, "zero": false}, "axis": null}, "text": {"value": "(f)"}}},
{"data": {"values": [{}]}, "mark": {"type": "text", "font": "Liberation Mono", "fontWeight": "bold", "fontSize": 14.5, "color": "#000", "align": "center", "baseline": "middle"},
 "encoding": {"x": {"datum": 2909, "type": "quantitative", "scale": {"domain": [2750, 3050], "reverse": true, "nice": false, "zero": false}, "axis": null}, "y": {"datum": 0.25, "type": "quantitative", "scale": {"domain": [-0.1, 0.3], "reverse": true, "nice": false, "zero": false}, "axis": null}, "text": {"value": "Murchison .... vs. EURECA B"}}},
{"data": {"values": [{}]}, "mark": {"type": "rule", "color": "#000", "strokeWidth": 1.5},
 "encoding": {"x": {"datum": 2805.6, "type": "quantitative", "scale": {"domain": [2750, 3050], "reverse": true, "nice": false, "zero": false}, "axis": null}, "x2": {"datum": 2758.7}, "y": {"datum": 0.25, "type": "quantitative", "scale": {"domain": [-0.1, 0.3], "reverse": true, "nice": false, "zero": false}, "axis": null}}}
]
}
],
"spacing": 0, "bounds": "flush"
}
],
"spacing": 0, "bounds": "flush"
}
]
}
